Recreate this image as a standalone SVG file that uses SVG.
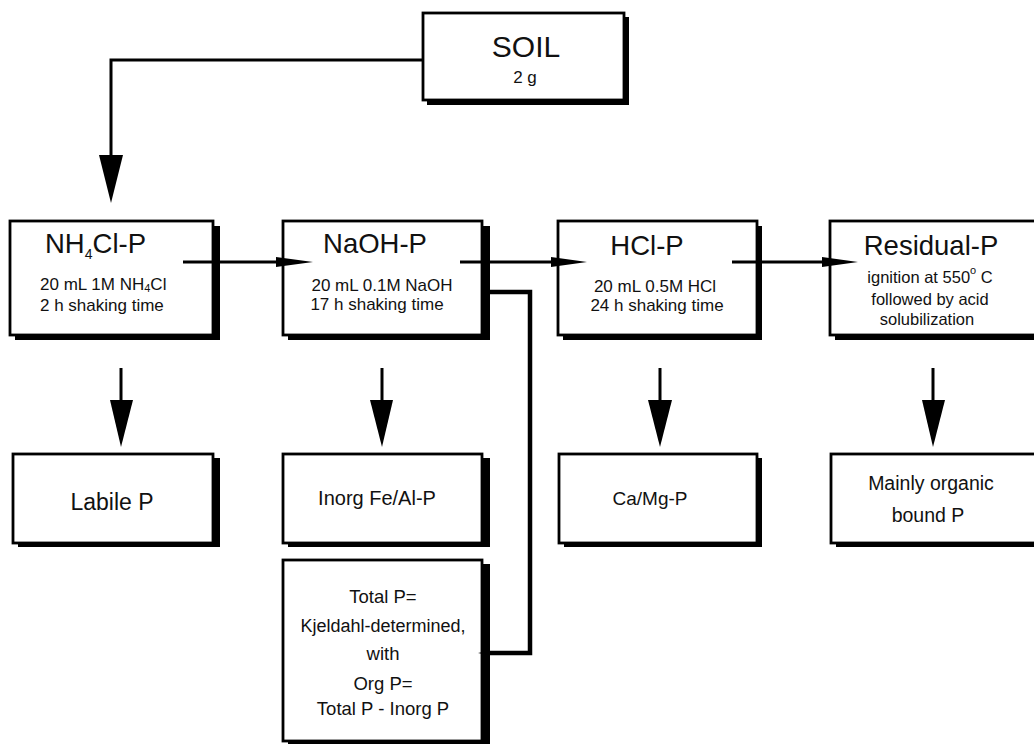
<svg xmlns="http://www.w3.org/2000/svg" width="1034" height="744" viewBox="0 0 1034 744">
<defs>
<style>
.shadow{fill:#000}
.frame{fill:#fff;stroke:#000;stroke-width:2.8}
.t{font-family:"Liberation Sans",Arial,sans-serif;fill:#111}
.title{font-size:27.5px}
.sub{font-size:17px}
.res{font-size:16.5px}
.line{fill:none;stroke:#000;stroke-width:3}
.thick{fill:none;stroke:#000;stroke-width:4.5}
.head{fill:#000}
</style>
</defs>
<rect width="1034" height="744" fill="#fff"/>

<g id="soil">
<rect class="shadow" x="427" y="17" width="202" height="88"/>
<rect class="frame" x="423" y="13" width="201" height="87"/>
<text class="t" x="526" y="57" text-anchor="middle" font-size="30">SOIL</text>
<text class="t sub" x="525" y="83" text-anchor="middle">2 g</text>
</g>

<g id="nh4cl">
<rect class="shadow" x="15" y="226" width="205" height="114"/>
<rect class="frame" x="10" y="221" width="203" height="114"/>
<text class="t title" x="45" y="253">NH<tspan font-size="14" dy="6">4</tspan><tspan dy="-6">Cl-P</tspan></text>
<text class="t sub" x="40" y="290">20 mL 1M NH<tspan font-size="11" dy="2">4</tspan><tspan dy="-2">Cl</tspan></text>
<text class="t sub" x="40" y="311">2 h shaking time</text>
</g>

<g id="naoh">
<rect class="shadow" x="288" y="226" width="202" height="114"/>
<rect class="frame" x="283" y="221" width="199" height="114"/>
<text class="t title" x="375" y="253" text-anchor="middle">NaOH-P</text>
<text class="t sub" x="382" y="291" text-anchor="middle">20 mL 0.1M NaOH</text>
<text class="t sub" x="377" y="310" text-anchor="middle">17 h shaking time</text>
</g>

<g id="hcl">
<rect class="shadow" x="563" y="226" width="199" height="114"/>
<rect class="frame" x="558" y="221" width="199" height="114"/>
<text class="t title" x="647" y="255" text-anchor="middle">HCl-P</text>
<text class="t sub" x="655" y="292" text-anchor="middle">20 mL 0.5M HCl</text>
<text class="t sub" x="657" y="311" text-anchor="middle">24 h shaking time</text>
</g>

<g id="residual">
<rect class="shadow" x="835" y="226" width="220" height="114"/>
<rect class="frame" x="830" y="221" width="220" height="114"/>
<text class="t title" x="931" y="255" text-anchor="middle">Residual-P</text>
<text class="t res" x="930" y="283" text-anchor="middle">ignition at 550<tspan font-size="11" dy="-9">o</tspan><tspan dy="9"> C</tspan></text>
<text class="t res" x="930" y="305" text-anchor="middle">followed by acid</text>
<text class="t res" x="927" y="325" text-anchor="middle">solubilization</text>
</g>

<g id="labile">
<rect class="shadow" x="18" y="458" width="202" height="89"/>
<rect class="frame" x="13" y="454" width="200" height="89"/>
<text class="t" x="112" y="510" text-anchor="middle" font-size="23">Labile P</text>
</g>

<g id="inorg">
<rect class="shadow" x="288" y="458" width="202" height="89"/>
<rect class="frame" x="283" y="454" width="199" height="89"/>
<text class="t" x="377" y="505" text-anchor="middle" font-size="20">Inorg Fe/Al-P</text>
</g>

<g id="totalp">
<rect class="shadow" x="288" y="564" width="202" height="190"/>
<rect class="frame" x="283" y="560" width="199" height="181"/>
<text class="t" x="383" y="603" text-anchor="middle" font-size="18.5">Total P=</text>
<text class="t" x="383" y="632" text-anchor="middle" font-size="18">Kjeldahl-determined,</text>
<text class="t" x="383" y="660" text-anchor="middle" font-size="18.5">with</text>
<text class="t" x="383" y="690" text-anchor="middle" font-size="18.5">Org P=</text>
<text class="t" x="383" y="715" text-anchor="middle" font-size="18.5">Total P - Inorg P</text>
</g>

<g id="camg">
<rect class="shadow" x="564" y="458" width="198" height="89"/>
<rect class="frame" x="559" y="454" width="198" height="89"/>
<text class="t" x="650" y="505" text-anchor="middle" font-size="19">Ca/Mg-P</text>
</g>

<g id="organic">
<rect class="shadow" x="836" y="458" width="220" height="89"/>
<rect class="frame" x="831" y="454" width="220" height="89"/>
<text class="t" x="931" y="490" text-anchor="middle" font-size="19.5">Mainly organic</text>
<text class="t" x="928" y="522" text-anchor="middle" font-size="19.5">bound P</text>
</g>

<g id="connectors">
<path class="line" d="M423,60 H111 V158"/>
<polygon class="head" points="99,155 123,155 111,203"/>

<path class="line" d="M183,262 H278"/>
<polygon class="head" points="276,257 276,267 313,262"/>
<path class="line" d="M460,262 H553"/>
<polygon class="head" points="551,257 551,267 587,262"/>
<path class="line" d="M732,262 H824"/>
<polygon class="head" points="822,257 822,267 858,262"/>

<path class="thick" d="M490,292 H530 V653 H488"/>
<polygon class="head" points="478,653 490,650.5 490,655.5"/>

<path class="line" d="M121,368 V402"/>
<polygon class="head" points="110,400 133,400 121,447"/>
<path class="line" d="M382,368 V402"/>
<polygon class="head" points="370,400 393,400 382,447"/>
<path class="line" d="M660,368 V402"/>
<polygon class="head" points="648,400 672,400 660,447"/>
<path class="line" d="M933,368 V402"/>
<polygon class="head" points="922,400 945,400 933,447"/>
</g>
</svg>
